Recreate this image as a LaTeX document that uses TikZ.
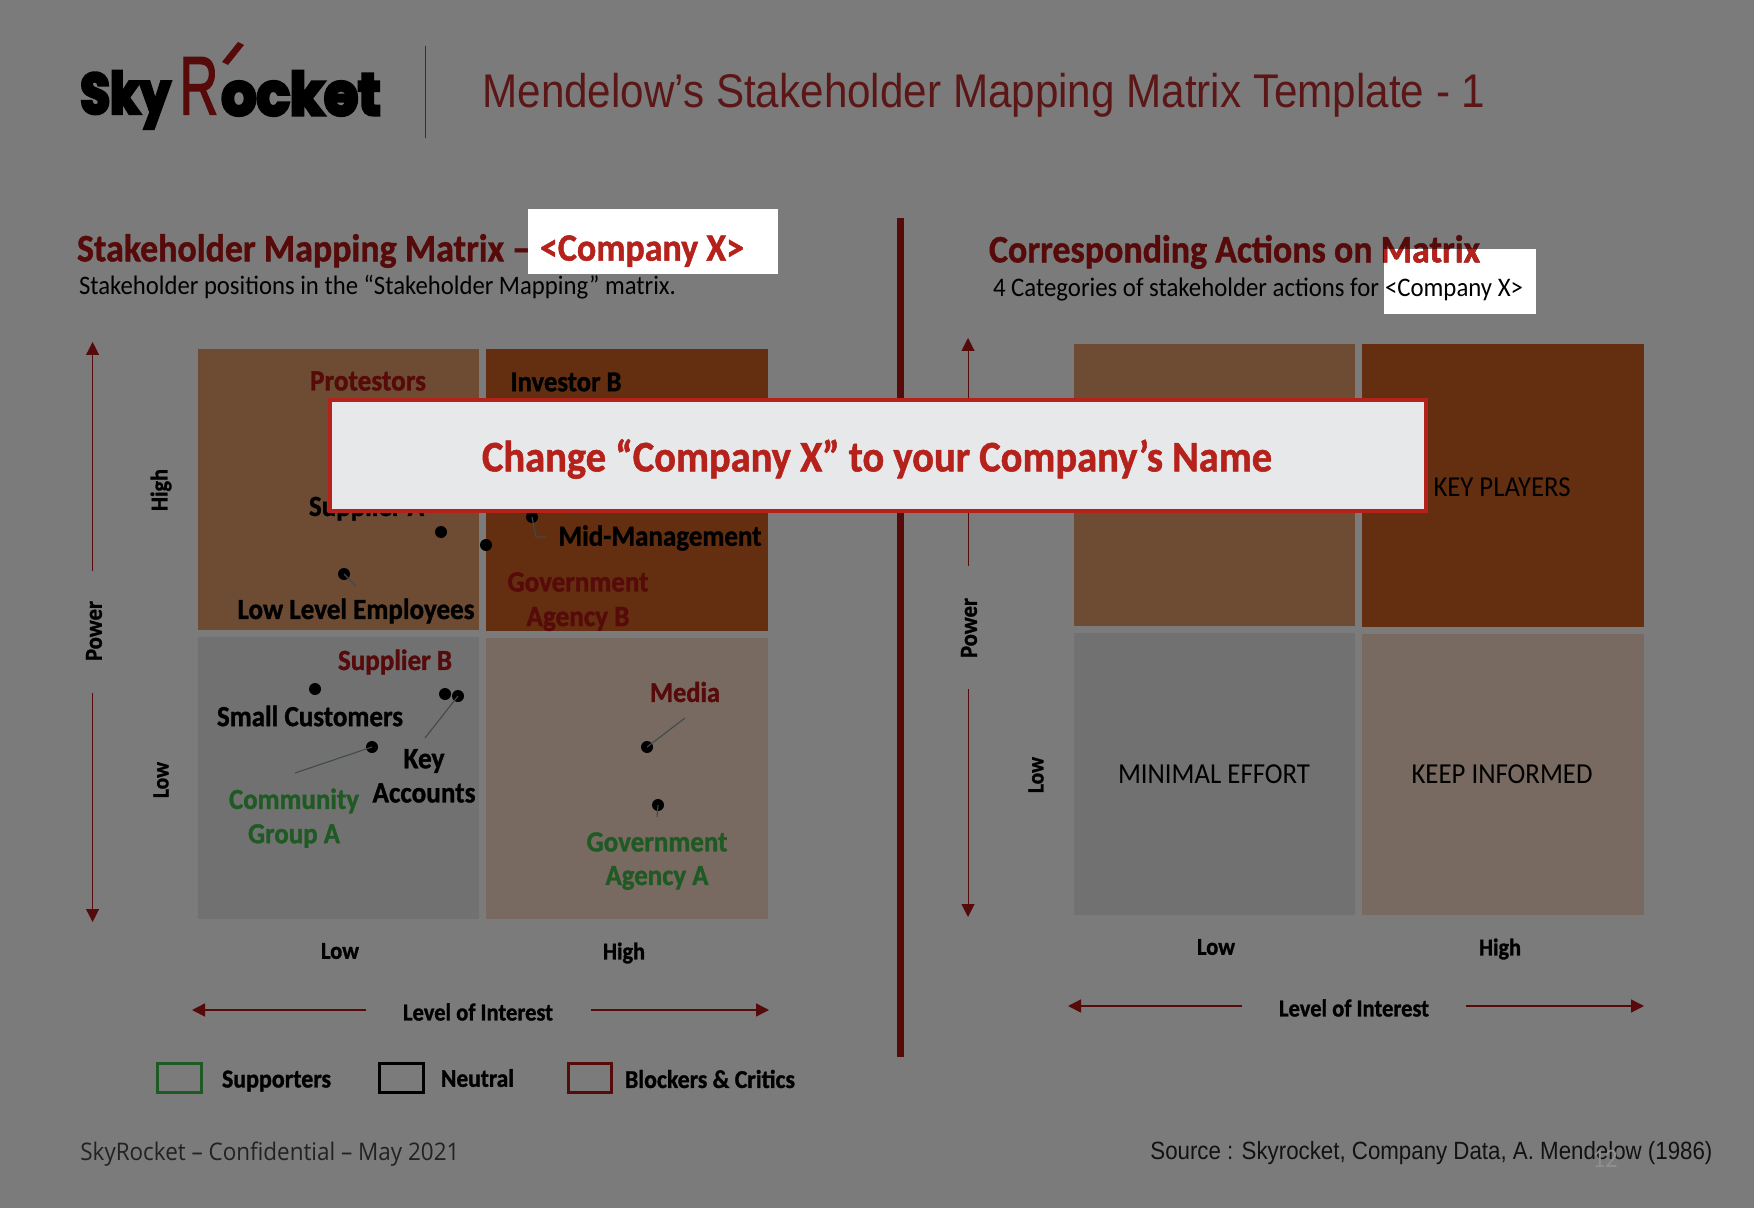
\documentclass[tikz,border=0pt]{standalone}
\usepackage{fontspec}
\usepackage{graphicx}
\usetikzlibrary{arrows.meta}
\setmainfont{Carlito}[BoldFeatures={FakeBold=1.2}]
\newfontfamily\helvf{Liberation Sans}
\newfontfamily\openf{Open Sans}
\newfontfamily\logof{Poppins}[UprightFont=* Bold,UprightFeatures={FakeBold=6}]
\newfontfamily\logor{Liberation Sans}[UprightFeatures={FakeBold=2}]
\newlength\pxu
\setlength\pxu{0.5pt}
\newcommand{\fitw}[2]{\resizebox{#1\pxu}{!}{\scalebox{1}[1.08]{#2}}}
\newcommand{\fith}[2]{\resizebox{#1\pxu}{!}{\scalebox{1}[1.12]{#2}}}
\definecolor{bgc}{HTML}{7B7B7B}
\definecolor{qtl}{HTML}{6D4C33}
\definecolor{qtr}{HTML}{642E10}
\definecolor{qbl}{HTML}{717171}
\definecolor{qbr}{HTML}{786A60}
\definecolor{dred}{HTML}{560A0A}
\definecolor{bred}{HTML}{B5211B}
\definecolor{dgreen}{HTML}{1F5A24}
\definecolor{panel}{HTML}{E7E8EA}
\definecolor{leader}{HTML}{3F4A4F}
\tikzset{
  lab/.style={inner sep=0pt,outer sep=0pt,font=\bfseries,text=black},
  labred/.style={lab,text=dred},
  labgreen/.style={lab,text=dgreen},
  plain/.style={inner sep=0pt,outer sep=0pt,text=black},
  dotm/.style={circle,fill=black,inner sep=0pt,minimum size=6pt},
  leadline/.style={draw=leader,line width=0.55pt},
  axisv/.style={draw=dred,line width=0.5pt,-{Triangle[length=6.5pt,width=6.5pt]}},
  axish/.style={draw=dred,line width=0.75pt,-{Triangle[length=6.5pt,width=6.5pt]}},
  legendbox/.style={inner sep=0pt,line width=1.5pt,fill=none},
}
\begin{document}
\begin{tikzpicture}[x=0.5pt,y=-0.5pt]
\useasboundingbox (0,0) rectangle (1754,1208);
\fill[bgc] (0,0) rectangle (1754,1208);

% logo and header
\node[inner sep=0pt,anchor=north west,text=black] (sky) at (80,71) {\resizebox*{90\pxu}{57\pxu}{\logof Sky}};
\node[inner sep=0pt,anchor=north west,text=dred] (logoR) at (179,57) {\resizebox*{39\pxu}{57\pxu}{\logor R}};
\node[inner sep=0pt,anchor=north west,text=black] (ocket) at (221,71) {\resizebox*{159\pxu}{44\pxu}{\logof ocket}};
\fill[dred] (238,42) -- (244,45) -- (228,65) -- (222,62) -- cycle;
\draw[draw=black!60!bgc,line width=0.5pt] (425.5,46) -- (425.5,138);
\node[inner sep=0pt,anchor=base west,text=dred!88!bgc] (title) at (482,108) {\fith{1003}{\helvf Mendelow’s Stakeholder Mapping Matrix Template - 1}};

% left heading
\fill[white] (528,209) rectangle (778,274);
\node[labred,anchor=west] (lhead) at (77,251) {\fitw{453}{Stakeholder Mapping Matrix –}};
\begin{scope}[blend mode=lighten]
\fill[bred] (528,240) rectangle (536,262);
\end{scope}
\node[lab,anchor=west,text=bred] (lco) at (540,251) {\fitw{204}{<Company X>}};
\node[plain,anchor=west] (lsub) at (79,287) {\fitw{597}{Stakeholder positions in the “Stakeholder Mapping” matrix.}};

% left matrix
\fill[qtl] (198,349) rectangle (479,630);
\fill[qtr] (486,349) rectangle (768,631);
\fill[qbl] (198,637) rectangle (479,919);
\fill[qbr] (486,638) rectangle (768,919);

% divider bar
\coordinate (bart) at (900,218);
\coordinate (barb) at (900,1057);
\draw[draw=dred,line width=3.5pt] (bart) -- (barb);

% left axes
\coordinate (la1) at (92.6,571);
\coordinate (la2) at (92.6,342);
\coordinate (la3) at (92.6,693);
\coordinate (la4) at (92.6,922);
\draw[axisv] (la1) -- (la2);
\draw[axisv] (la3) -- (la4);
\node[lab,rotate=90] (lpow) at (94,631) {\fitw{60}{Power}};
\node[lab,rotate=90] (lhi) at (161,490) {\fitw{42}{High}};
\node[lab,rotate=90] (llo) at (161,780) {\fitw{36}{Low}};
\node[lab] (lxlo) at (340,951) {\fitw{38}{Low}};
\node[lab] (lxhi) at (624,953) {\fitw{42}{High}};
\node[lab] (lxl) at (478,1012) {\fitw{150}{Level of Interest}};
\coordinate (lh1) at (366,1010);
\coordinate (lh2) at (192,1010);
\coordinate (lh3) at (590.6,1010);
\coordinate (lh4) at (769,1010);
\draw[axish] (lh1) -- (lh2);
\draw[axish] (lh3) -- (lh4);

% left matrix labels
\node[labred] (protest) at (368,381) {\fitw{116}{Protestors}};
\node[lab] (investor) at (566,382) {\fitw{111}{Investor B}};
\node[lab,anchor=west] (supa) at (309,508) {\fitw{115}{Supplier A}};
\node[lab] (midm) at (660,538) {\fitw{203}{Mid-Management}};
\node[labred] (govb) at (578,582) {\fitw{141}{Government}};
\node[labred] (agb) at (578,619) {\fitw{103}{Agency B}};
\node[lab] (lowemp) at (356,611) {\fitw{237}{Low Level Employees}};
\node[labred] (supb) at (395,662) {\fitw{114}{Supplier B}};
\node[lab] (smallc) at (310,716) {\fitw{186}{Small Customers}};
\node[lab] (keyl) at (424,761) {\fitw{41}{Key}};
\node[lab] (accl) at (424,793) {\fitw{103}{Accounts}};
\node[labgreen] (comm) at (294,801) {\fitw{130}{Community}};
\node[labgreen] (groupa) at (294,836) {\fitw{92}{Group A}};
\node[labred] (media) at (685,692) {\fitw{70}{Media}};
\node[labgreen] (gova) at (657,842) {\fitw{141}{Government}};
\node[labgreen] (aga) at (657,878) {\fitw{103}{Agency A}};

% dots
\node[dotm] (d1) at (441,532) {};
\node[dotm] (d2) at (486,545) {};
\node[dotm] (d3) at (532,517) {};
\node[dotm] (d4) at (344,574) {};
\node[dotm] (d5) at (315,689) {};
\node[dotm] (d6) at (445,694) {};
\node[dotm] (d7) at (458,696) {};
\node[dotm] (d8) at (372,747) {};
\node[dotm] (d9) at (647,747) {};
\node[dotm] (d10) at (658,805) {};

% leaders
\coordinate (e3a) at (536,537);
\coordinate (e3b) at (546,537);
\draw[leadline] (d3.center) -- (e3a) -- (e3b);
\coordinate (e4) at (356,586);
\draw[leadline] (d4.center) -- (e4);
\coordinate (e7) at (425,738);
\draw[leadline] (d7.center) -- (e7);
\coordinate (e8) at (295,773);
\draw[leadline] (d8.center) -- (e8);
\coordinate (e9) at (685,718);
\draw[leadline] (d9.center) -- (e9);
\coordinate (e10) at (657,817);
\draw[leadline] (d10.center) -- (e10);

% legend
\draw[legendbox,draw=dgreen] (157.5,1063.5) rectangle (201,1092);
\draw[legendbox,draw=black] (379.5,1063.5) rectangle (423,1092);
\draw[legendbox,draw=dred] (568.5,1063.5) rectangle (611.5,1092);
\node[lab] (lgs) at (276.5,1081) {\fitw{109}{Supporters}};
\node[lab] (lgn) at (477.5,1078) {\fitw{73}{Neutral}};
\node[lab] (lgb) at (710,1079) {\fitw{170}{Blockers \& Critics}};

% right heading
\fill[white] (1384,249) rectangle (1536,314);
\node[labred,anchor=west] (rhead) at (989,252) {\fitw{491}{Corresponding Actions on Matrix}};
\begin{scope}[blend mode=lighten]
\fill[bred] (1384,249) rectangle (1536,272);
\end{scope}
\node[plain,anchor=west] (rsub) at (993,290) {\fitw{386}{4 Categories of stakeholder actions for}};
\node[plain,anchor=west] (rco) at (1385,290) {\fitw{138}{<Company X>}};

% right matrix
\fill[qtl] (1073.5,344) rectangle (1355,626);
\fill[qtr] (1361.5,344) rectangle (1644,627);
\fill[qbl] (1073.5,633) rectangle (1355,915);
\fill[qbr] (1361.5,634) rectangle (1644,915);
\node[plain] (keyp) at (1502,487) {\fitw{137}{KEY PLAYERS}};
\node[plain] (minef) at (1214,774) {\fitw{192}{MINIMAL EFFORT}};
\node[plain] (keepi) at (1502,774) {\fitw{181}{KEEP INFORMED}};

% right axes
\coordinate (ra1) at (968,566);
\coordinate (ra2) at (968,338);
\coordinate (ra3) at (968,689);
\coordinate (ra4) at (968,917);
\draw[axisv] (ra1) -- (ra2);
\draw[axisv] (ra3) -- (ra4);
\node[lab,rotate=90] (rpow) at (969,628) {\fitw{60}{Power}};
\node[lab,rotate=90] (rlo) at (1036,775) {\fitw{36}{Low}};
\node[lab] (rxlo) at (1216,947) {\fitw{38}{Low}};
\node[lab] (rxhi) at (1500,949) {\fitw{42}{High}};
\node[lab] (rxl) at (1354,1008) {\fitw{150}{Level of Interest}};
\coordinate (rh1) at (1242,1006);
\coordinate (rh2) at (1068,1006);
\coordinate (rh3) at (1466,1006);
\coordinate (rh4) at (1644,1006);
\draw[axish] (rh1) -- (rh2);
\draw[axish] (rh3) -- (rh4);

% overlay panel
\fill[panel,draw=bred,line width=2.25pt] (330.2,400.2) rectangle (1425.8,510.8);
\node[lab,text=bred] (change) at (877,459) {\fitw{790}{Change “Company X” to your Company’s Name}};

% footer
\node[inner sep=0pt,anchor=west,text=black!72!bgc] (foot) at (80,1154) {\fitw{379}{\openf SkyRocket – Confidential – May 2021}};
\node[inner sep=0pt,anchor=west,text=black!85!bgc] (src) at (1150,1153) {\fith{562}{\helvf Source : Skyrocket, Company Data, A. Mendelow (1986)}};
\node[inner sep=0pt,text=white!15!bgc] (pgn) at (1605,1159) {\fitw{25}{12}};
\end{tikzpicture}
\end{document}
